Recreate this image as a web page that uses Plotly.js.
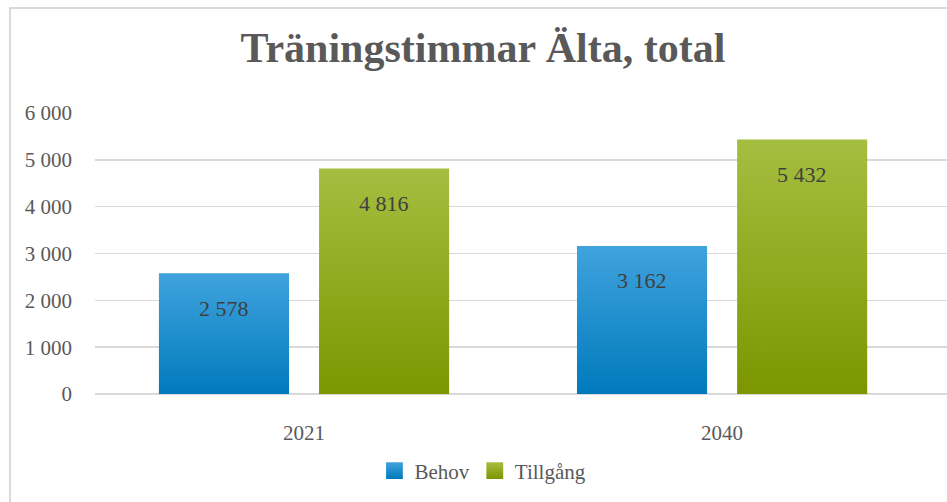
<!DOCTYPE html>
<html><head><meta charset="utf-8">
<script src="https://cdn.plot.ly/plotly-3.0.1.min.js"></script>
<style>html,body{margin:0;padding:0;background:#fff}#chart{width:947px;height:502px}</style>
</head><body><div id="chart"></div>
<script>
const categories = ['2021', '2040'];
const behov = [2578, 3162];
const tillgang = [4816, 5432];
const seriesNames = ['Behov', 'Tillgång'];

const fmt = v => String(v).replace(/\B(?=(\d{3})+(?!\d))/g, ' ');
const serif = 'Liberation Serif, DejaVu Serif, serif';

const mk = (name, vals, color) => ({
  type: 'bar', name: name, x: categories, y: vals,
  marker: {color: color, line: {width: 0}},
  hoverinfo: 'none'
});

const data = [mk(seriesNames[0], behov, '#1591d4'), mk(seriesNames[1], tillgang, '#92ae10')];

const annotations = [];
[behov, tillgang].forEach((vals, i) => {
  vals.forEach((v, j) => {
    annotations.push({x: j, y: v, xref: 'x', yref: 'y', text: fmt(v), showarrow: false,
      xshift: i === 0 ? -80 : 80, yshift: -35, yanchor: 'middle', xanchor: 'center',
      font: {family: serif, size: 22, color: '#404040'}});
  });
});

const layout = {
  width: 947, height: 502,
  margin: {l: 95, r: 0, t: 113, b: 108},
  paper_bgcolor: '#fff', plot_bgcolor: '#fff',
  separators: ', ',
  font: {family: serif, color: '#595959', size: 21},
  title: {text: '<b>Träningstimmar Älta, total</b>', font: {family: serif, size: 42, color: '#595959'},
          x: 0.51, xref: 'container', xanchor: 'center', y: 0.905, yanchor: 'middle'},
  barmode: 'group', bargap: 0.234, bargroupgap: 0.1875,
  xaxis: {type: 'category', range: [-0.5, 1.538], showgrid: false, showline: false, ticks: '',
          ticklabelstandoff: 24,
          tickfont: {family: serif, size: 21, color: '#595959'}, fixedrange: true},
  yaxis: {range: [0, 6000], tickvals: [0,1000,2000,3000,4000,5000,6000], tickformat: ',d',
          showgrid: true, gridcolor: '#d9d9d9', gridwidth: 1.5, zeroline: true, zerolinecolor: '#d9d9d9', zerolinewidth: 1.5,
          showline: false, ticks: '', ticklabelstandoff: 22,
          tickfont: {family: serif, size: 21, color: '#595959'}, fixedrange: true},
  showlegend: true,
  legend: {orientation: 'h', x: 0.51, xref: 'container', xanchor: 'center', y: 0.062, yref: 'container', yanchor: 'middle',
           font: {family: serif, size: 21, color: '#595959'}, itemwidth: 30, traceorder: 'normal'},
  annotations: annotations,
  shapes: [{type: 'rect', xref: 'paper', yref: 'paper', x0: -0.0998, x1: 1.2, y0: -0.6, y1: 1.3737,
            line: {color: '#d9d9d9', width: 2}, fillcolor: 'rgba(0,0,0,0)', layer: 'below'}]
};

Plotly.newPlot('chart', data, layout, {displayModeBar: false, staticPlot: true}).then(gd => {
  const svg = gd.querySelector('.main-svg');
  const ns = 'http://www.w3.org/2000/svg';
  let defs = svg.querySelector('defs');
  if (!defs) { defs = document.createElementNS(ns, 'defs'); svg.insertBefore(defs, svg.firstChild); }
  const grads = [['gBlue', '#40a3de', '#007abc'], ['gGreen', '#a6be40', '#7c9600']];
  grads.forEach(([id, c1, c2]) => {
    const lg = document.createElementNS(ns, 'linearGradient');
    lg.setAttribute('id', id); lg.setAttribute('x1', '0'); lg.setAttribute('y1', '0'); lg.setAttribute('x2', '0'); lg.setAttribute('y2', '1');
    [[0, c1], [1, c2]].forEach(([o, c]) => {
      const s = document.createElementNS(ns, 'stop'); s.setAttribute('offset', o); s.setAttribute('stop-color', c); lg.appendChild(s);
    });
    defs.appendChild(lg);
  });
  gd.querySelectorAll('.trace.bars').forEach((t, i) => {
    t.querySelectorAll('.point path').forEach(p => { p.style.fill = 'url(#' + grads[i][0] + ')'; });
  });
  gd.querySelectorAll('.legend .traces').forEach((t, i) => {
    t.querySelectorAll('.legendpoints path').forEach(p => {
      p.style.fill = 'url(#' + grads[i][0] + ')';
      const tr = p.getAttribute('transform') || '';
      p.setAttribute('transform', tr + ' scale(1.4)');
    });
  });
});
</script></body></html>
